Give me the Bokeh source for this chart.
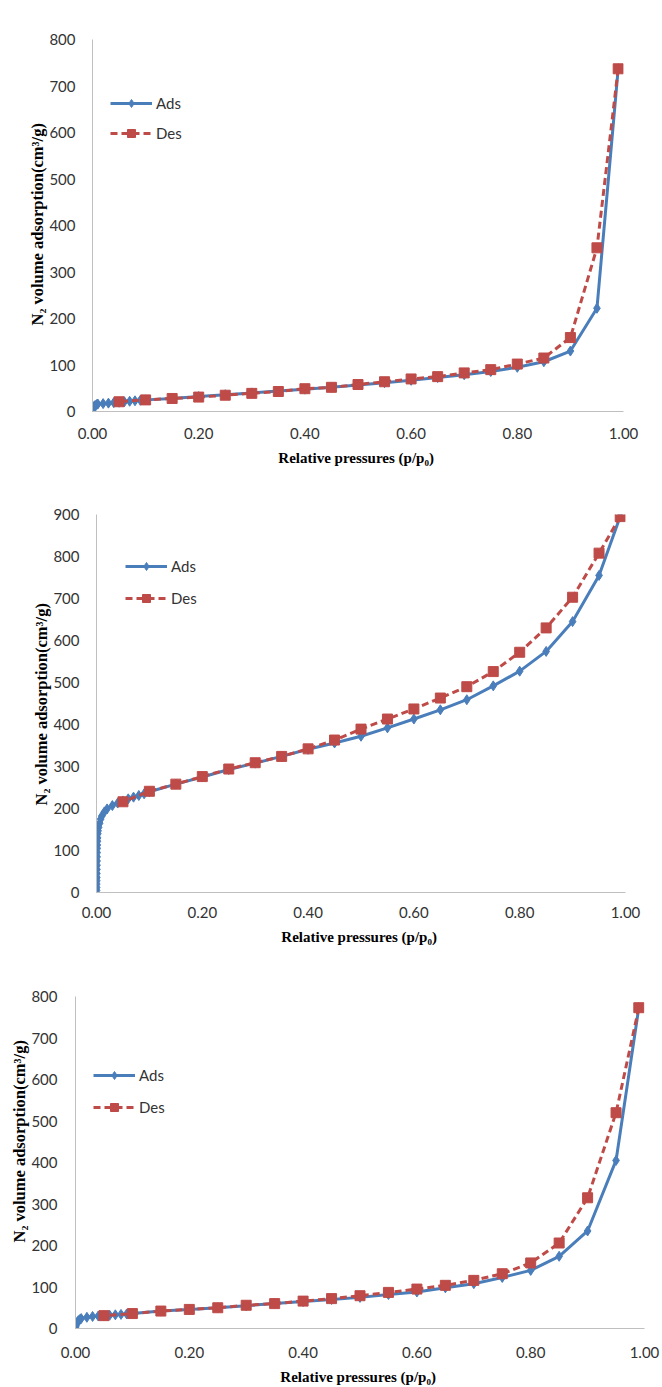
from bokeh.plotting import figure
from bokeh.models import Legend, LegendItem, FixedTicker, NumeralTickFormatter, Range1d, Title
from bokeh.embed import file_html
from bokeh.resources import INLINE

# ---------------- data ----------------
# Panel 1
p1_ads_x = [0.0005, 0.001, 0.002, 0.003, 0.005, 0.008, 0.01, 0.02, 0.03, 0.04, 0.05, 0.06, 0.07, 0.08, 0.09,
            0.10, 0.15, 0.20, 0.25, 0.30, 0.35, 0.40, 0.45, 0.50, 0.55, 0.60, 0.65, 0.70, 0.75, 0.80, 0.85, 0.90, 0.95, 0.99]
p1_ads_y = [3, 6, 9, 11, 13, 15, 16, 17, 18, 19, 20, 21, 22, 23, 24,
            25, 28, 32, 36, 40, 44, 48, 52, 57, 62, 67, 73, 79, 86, 95, 107, 130, 222, 737]
p1_des_x = [0.99, 0.95, 0.90, 0.85, 0.80, 0.75, 0.70, 0.65, 0.60, 0.55, 0.50, 0.45, 0.40, 0.35, 0.30, 0.25, 0.20, 0.15, 0.10, 0.05]
p1_des_y = [737, 352, 159, 115, 102, 90, 83, 75, 70, 64, 58, 52, 49, 43, 39, 35, 31, 28, 25, 21]

# Panel 2
p2_ads_x = [0.0002, 0.0003, 0.0004, 0.0005, 0.0006, 0.0007, 0.0008, 0.0009, 0.001, 0.0011, 0.0012, 0.0013,
            0.0015, 0.0017, 0.002, 0.0025, 0.003, 0.004, 0.006, 0.008, 0.01, 0.015, 0.02, 0.03, 0.04, 0.05,
            0.06, 0.07, 0.08, 0.09,
            0.10, 0.15, 0.20, 0.25, 0.30, 0.35, 0.40, 0.45, 0.50, 0.55, 0.60, 0.65, 0.70, 0.75, 0.80, 0.85, 0.90, 0.95, 0.99]
p2_ads_y = [5, 12, 20, 28, 36, 45, 55, 65, 75, 85, 95, 105,
            113, 122, 130, 140, 147, 155, 165, 175, 182, 192, 199, 207, 213, 218,
            223, 227, 231, 235,
            240, 258, 275, 293, 308, 324, 341, 356, 372, 392, 413, 435, 459, 492, 527, 574, 645, 755, 895]
p2_des_x = [0.99, 0.95, 0.90, 0.85, 0.80, 0.75, 0.70, 0.65, 0.60, 0.55, 0.50, 0.45, 0.40, 0.35, 0.30, 0.25, 0.20, 0.15, 0.10, 0.05]
p2_des_y = [895, 808, 703, 630, 572, 526, 490, 463, 437, 413, 389, 363, 342, 324, 309, 294, 276, 258, 241, 216]

# Panel 3
p3_ads_x = [0.0005, 0.001, 0.002, 0.003, 0.005, 0.008, 0.01, 0.02, 0.03, 0.04, 0.05, 0.06, 0.07, 0.08, 0.09,
            0.10, 0.15, 0.20, 0.25, 0.30, 0.35, 0.40, 0.45, 0.50, 0.55, 0.60, 0.65, 0.70, 0.75, 0.80, 0.85, 0.90, 0.95, 0.99]
p3_ads_y = [4, 8, 12, 15, 19, 22, 24, 27, 29, 30, 31, 32, 33, 34, 35,
            36, 42, 46, 50, 55, 60, 65, 70, 75, 82, 88, 98, 108, 123, 140, 174, 235, 405, 773]
p3_des_x = [0.99, 0.95, 0.90, 0.85, 0.80, 0.75, 0.70, 0.65, 0.60, 0.55, 0.50, 0.45, 0.40, 0.35, 0.30, 0.25, 0.20, 0.15, 0.10, 0.05]
p3_des_y = [773, 520, 315, 206, 158, 132, 116, 104, 95, 87, 79, 72, 66, 60, 56, 50, 46, 42, 36, 31]

x_ticks = [0.0, 0.2, 0.4, 0.6, 0.8, 1.0]
series_labels = ["Ads", "Des"]

BLUE = "#4A7EBB"
RED = "#BE4B48"
TICK_FONT = "Lato"
TITLE_FONT = "Liberation Serif"
Y_TITLE = "N\u2082 volume adsorption(cm\u00b3/g)"
X_TITLE = "Relative pressures  (p/p\u2080)"


def make_panel(ads_x, ads_y, des_x, des_y, ymax, height, borders, legend_loc, legend_spacing,
               xtick_standoff, ytick_standoff, ytitle_offset):
    bt, bb, bl, br = borders
    p = figure(width=662, height=height, output_backend="svg", toolbar_location=None,
               x_range=Range1d(0, 1.0), y_range=Range1d(0, ymax),
               min_border_top=bt, min_border_bottom=bb, min_border_left=bl, min_border_right=br)
    p.outline_line_color = None
    p.grid.visible = False
    p.background_fill_color = "white"

    r_ads_l = p.line(ads_x, ads_y, line_color=BLUE, line_width=3)
    r_ads_m = p.scatter(ads_x, ads_y, marker="diamond", size=10, fill_color=BLUE, line_color=BLUE)
    r_des_l = p.line(des_x, des_y, line_color=RED, line_width=3, line_dash="7 4")
    r_des_m = p.scatter(des_x, des_y, marker="square", size=10, fill_color=RED, line_color=RED)

    for ax in (p.xaxis[0], p.yaxis[0]):
        ax.axis_line_color = "#BFBFBF"
        ax.axis_line_width = 1
        ax.major_tick_line_color = None
        ax.minor_tick_line_color = None
        ax.major_label_text_font = TICK_FONT
        ax.major_label_text_font_size = "15px"
        ax.major_label_text_color = "#333333"
        ax.axis_label_text_font = TITLE_FONT
        ax.axis_label_text_font_style = "bold"
        ax.axis_label_text_color = "#000000"

    p.xaxis.axis_label_text_font_size = "15px"
    p.xaxis.ticker = FixedTicker(ticks=x_ticks)
    p.xaxis.formatter = NumeralTickFormatter(format="0.00")
    p.yaxis.ticker = FixedTicker(ticks=list(range(0, ymax + 1, 100)))
    p.xaxis.major_label_standoff = xtick_standoff
    p.yaxis.major_label_standoff = ytick_standoff
    p.xaxis.axis_label = X_TITLE
    p.xaxis.axis_label_standoff = 8

    ytitle = Title(text=Y_TITLE, align="left", offset=ytitle_offset, standoff=0,
                   text_font=TITLE_FONT, text_font_style="bold", text_font_size="16.5px",
                   text_color="#000000")
    p.add_layout(ytitle, "left")

    legend = Legend(items=[LegendItem(label=series_labels[0], renderers=[r_ads_l, r_ads_m]),
                           LegendItem(label=series_labels[1], renderers=[r_des_l, r_des_m])],
                    location=legend_loc, padding=0, margin=0, spacing=legend_spacing,
                    glyph_width=42, glyph_height=20, label_standoff=4,
                    label_text_font=TICK_FONT, label_text_font_size="15px", label_text_color="#333333",
                    border_line_color=None, background_fill_alpha=0)
    p.add_layout(legend)
    return p


p1 = make_panel(p1_ads_x, p1_ads_y, p1_des_x, p1_des_y, 800, 476, (39, 65, 92, 39), (18, 268), 10, 10, 11, 86)
p2 = make_panel(p2_ads_x, p2_ads_y, p2_des_x, p2_des_y, 900, 474, (38, 58, 96, 37), (29, 284), 12, 8, 11, 87)
p3 = make_panel(p3_ads_x, p3_ads_y, p3_des_x, p3_des_y, 800, 437, (46, 58, 75, 18), (18, 211), 12, 12, 12, 86)

open("out.html", "w").write(file_html([p1, p2, p3], INLINE))
